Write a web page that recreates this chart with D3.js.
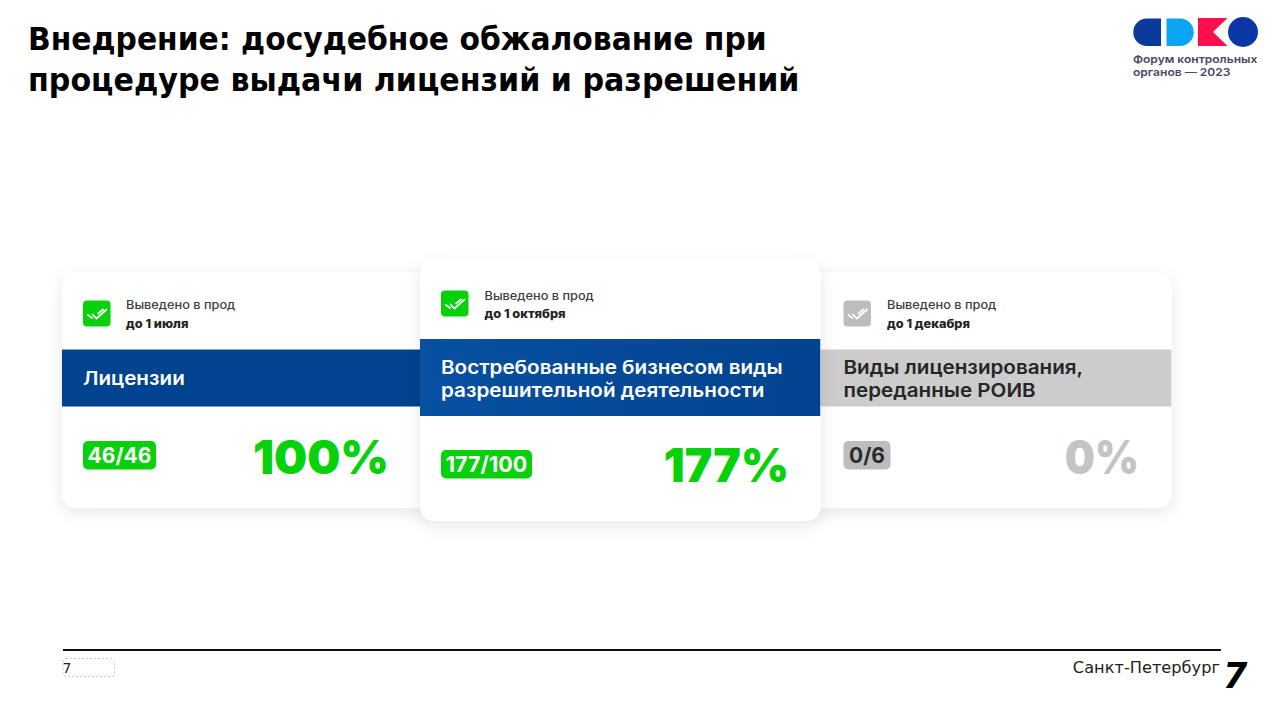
<!DOCTYPE html>
<html lang="ru"><head><meta charset="utf-8">
<script src="https://cdn.jsdelivr.net/npm/d3@7/dist/d3.min.js"></script>
<style>html,body{margin:0;padding:0;background:#fff;overflow:hidden}svg{display:block}text{font-family:Inter,sans-serif}</style>
</head><body><svg id="c" width="1280" height="716" viewBox="0 0 1280 716"></svg>
<script>
// ---- data ----
const headline = ["Внедрение: досудебное обжалование при", "процедуре выдачи лицензий и разрешений"];
const statusLine = ["Выведено в прод", "Выведено в прод", "Выведено в прод"];
const deadlines = ["до 1 июля", "до 1 октября", "до 1 декабря"];
const categories = [["Лицензии"], ["Востребованные бизнесом виды", "разрешительной деятельности"], ["Виды лицензирования,", "переданные РОИВ"]];
const doneCounts = [46, 177, 0];
const planCounts = [46, 100, 6];
const percents = [100, 177, 0];
const logoLines = ["Форум контрольных", "органов — 2023"];
const footerPage = "7";
const footerCity = "Санкт-Петербург";

// ---- layout (separate from the data) ----
const headStretch = [0.946, 0.957];
const layout = [
  {x0:62, x1:440, top:272, bottom:508, bandTop:349.5, bandBottom:406.5, pad:21, icoY:300.5, textX:64, pctRight:389, pctY:474, pctStretch:0.992, chipY:441, chipH:28.5, chipW:73, chipFs:21, pctFs:47, tFs:19, tY:[385], band:"#01438f", accent:"#06d10b", pctCol:"#06d10b", chipText:"#fff", tCol:"#fff", statusY:[309,327.5]},
  {x0:420, x1:820.5, top:259, bottom:521, bandTop:339, bandBottom:416, pad:21, icoY:290.5, textX:64.5, pctRight:789, pctY:482, pctStretch:0.985, chipY:450, chipH:28.5, chipW:91, chipFs:21.5, pctFs:47, tFs:19, tY:[373.5,397], band:"url(#bandGrad)", accent:"#06d10b", pctCol:"#06d10b", chipText:"#fff", tCol:"#fff", statusY:[299.5,317.5]},
  {x0:800, x1:1171.5, top:272, bottom:508, bandTop:349.5, bandBottom:406.5, pad:43.5, icoY:300.5, textX:87, pctRight:1139, pctY:474, pctStretch:0.9, chipY:441, chipH:28.5, chipW:47, chipFs:21, pctFs:47, tFs:19, tY:[373.5,397], band:"#cccccc", accent:"#bdbdbd", pctCol:"#c4c4c4", chipText:"#2b2b2b", tCol:"#262626", statusY:[309,327.5]}
];
const drawOrder = [0, 2, 1];

const svg = d3.select("#c");
const defs = svg.append("defs");
const grad = defs.append("linearGradient").attr("id","bandGrad");
grad.append("stop").attr("offset","0%").attr("stop-color","#0850a2");
grad.append("stop").attr("offset","100%").attr("stop-color","#01438f");
const sh = defs.append("filter").attr("id","sh").attr("x","-10%").attr("y","-15%").attr("width","120%").attr("height","135%");
sh.append("feDropShadow").attr("dx",0).attr("dy",5).attr("stdDeviation",8).attr("flood-color","#000").attr("flood-opacity",0.09);

// stretch text horizontally by a factor of its natural width
function stretch(sel, f){
  sel.each(function(d,i){
    const len = this.getComputedTextLength();
    d3.select(this).attr("textLength", len*(typeof f==="function"?f(i):f)).attr("lengthAdjust","spacingAndGlyphs");
  });
  return sel;
}

// title
svg.selectAll("text.head").data(headline).join("text").attr("class","head")
  .attr("x",28).attr("y",(d,i)=>50+i*41)
  .style("font-family","'DejaVu Sans',sans-serif").style("font-weight",700).style("font-size","31.5px").attr("fill","#000")
  .text(d=>d).call(stretch,i=>headStretch[i]);

// logo
const logo = svg.append("g");
logo.append("path").attr("d","M1161 18.5H1147A13.75 13.75 0 0 0 1147 46H1161Z").attr("fill","#0a3a9a");
logo.append("path").attr("d","M1166.5 18.5H1180A13.75 13.75 0 0 1 1180 46H1166.5Z").attr("fill","#0aa5f5");
logo.append("path").attr("d","M1198 18H1227.5L1213 32L1227.5 46H1198Z").attr("fill","#ff0f4d");
logo.append("circle").attr("cx",1243).attr("cy",32).attr("r",15).attr("fill","#0a37a5");
logo.selectAll("text").data(logoLines).join("text").attr("x",1133).attr("y",(d,i)=>63+i*12.5)
  .style("font-size","10.8px").style("font-weight",600).attr("fill","#4b4763").text(d=>d).call(stretch,1.115);

// cards
const cards = svg.selectAll("g.card").data(drawOrder).join("g").attr("class","card");
cards.each(function(i){
  const g = d3.select(this), L = layout[i];
  const cx = L.x0, w = L.x1-L.x0, tx = L.x0+L.pad;
  const clipId = "cl"+i;
  defs.append("clipPath").attr("id",clipId).append("rect").attr("x",cx).attr("y",L.top).attr("width",w).attr("height",L.bottom-L.top).attr("rx",14);
  g.append("rect").attr("x",cx).attr("y",L.top).attr("width",w).attr("height",L.bottom-L.top).attr("rx",14).attr("fill","#fff").attr("filter","url(#sh)");
  g.append("rect").attr("clip-path",`url(#${clipId})`).attr("x",cx).attr("y",L.bandTop).attr("width",w).attr("height",L.bandBottom-L.bandTop).attr("fill",L.band);
  // icon
  g.append("rect").attr("x",tx).attr("y",L.icoY).attr("width",27.5).attr("height",26).attr("rx",4).attr("fill",L.accent);
  const ix=tx, iy=L.icoY;
  g.append("path").attr("d",`M${ix+5} ${iy+14.5}l4 3M${ix+9.5} ${iy+14}l4 4l10-9M${ix+15} ${iy+13}l5-4`)
    .attr("fill","none").attr("stroke","#fff").attr("stroke-width",1.7).attr("stroke-linecap","round");
  // status
  g.append("text").attr("x",cx+L.textX).attr("y",L.statusY[0]).style("font-size","11.6px").style("font-weight",500).attr("fill","#3c3c3c").text(statusLine[i]).call(stretch,1.1);
  g.append("text").attr("x",cx+L.textX).attr("y",L.statusY[1]).style("font-size","11.6px").style("font-weight",800).attr("fill","#222").text(deadlines[i]).call(stretch,1.1);
  // band title
  g.selectAll("text.t").data(categories[i]).join("text").attr("class","t").attr("x",tx).attr("y",(d,k)=>L.tY[k])
    .style("font-size",L.tFs+"px").style("font-weight",600).attr("fill",L.tCol).text(d=>d).call(stretch,1.085);
  // chip
  g.append("rect").attr("x",tx).attr("y",L.chipY).attr("width",L.chipW).attr("height",L.chipH).attr("rx",5).attr("fill",L.accent);
  g.append("text").attr("x",tx+L.chipW/2).attr("y",L.chipY+L.chipH/2+L.chipFs*0.36).attr("text-anchor","middle")
    .style("font-size",L.chipFs+"px").style("font-weight",700).attr("fill",L.chipText).text(doneCounts[i]+"/"+planCounts[i]);
  // percent
  g.append("text").attr("x",L.pctRight).attr("y",L.pctY).attr("text-anchor","end")
    .style("font-size",L.pctFs+"px").style("font-weight",900).attr("fill",L.pctCol).text(percents[i]+"%").call(stretch,L.pctStretch);
});

// footer
svg.append("line").attr("x1",63).attr("x2",1221).attr("y1",650).attr("y2",650).attr("stroke","#111").attr("stroke-width",2);
svg.append("rect").attr("x",63).attr("y",658.5).attr("width",51.5).attr("height",18).attr("rx",3).attr("fill","none").attr("stroke","#c8c8c8").attr("stroke-dasharray","2 2");
svg.append("text").attr("x",62.5).attr("y",673).style("font-family","'DejaVu Sans',sans-serif").style("font-size","14px").attr("fill","#222").text(footerPage);
svg.append("text").attr("x",1220).attr("y",673).attr("text-anchor","end").style("font-family","'DejaVu Sans',sans-serif").style("font-size","15px").attr("fill","#222").text(footerCity).call(stretch,1.08);
svg.append("text").attr("x",1223).attr("y",688).style("font-family","'DejaVu Sans',sans-serif").style("font-weight",700).style("font-style","italic").style("font-size","35px").attr("fill","#000").text(footerPage);
</script></body></html>
